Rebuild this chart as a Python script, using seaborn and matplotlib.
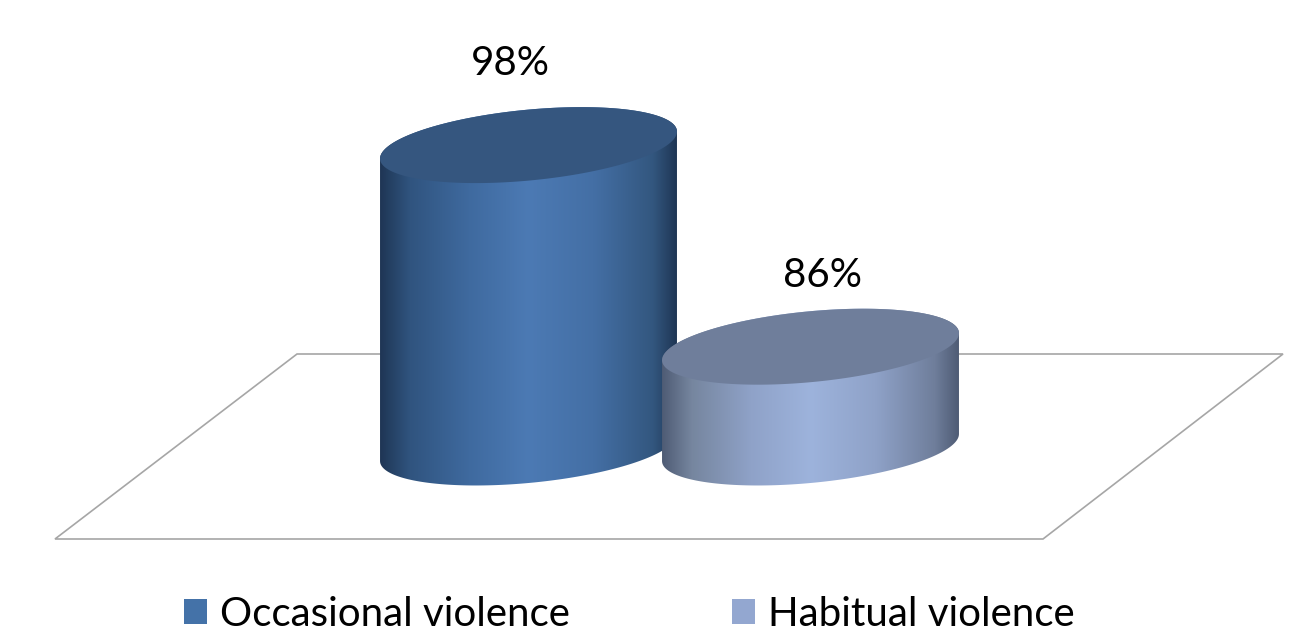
import numpy as np
import pandas as pd
import matplotlib
matplotlib.use("Agg")
import matplotlib.pyplot as plt
from matplotlib.colors import LinearSegmentedColormap
from matplotlib.patches import Patch, Polygon
from matplotlib.transforms import Affine2D
import seaborn as sns

categories = ["Occasional violence", "Habitual violence"]
values = [98, 86]
labels = ["98%", "86%"]

W, H = 1314, 633
sns.set_theme(style="white")
plt.rcParams["font.family"] = ["Lato", "DejaVu Sans"]

fig = plt.figure(figsize=(W / 100, H / 100), dpi=100, facecolor="white")
ax = fig.add_axes([0, 0, 1, 1])

df = pd.DataFrame({"category": categories, "value": values})
sns.barplot(data=df, x="category", y="value", order=categories, width=1.053, ax=ax)

# value axis starts at 80; about 16.8 px per percentage point, 282 px between bars
BASE, PX_Y, PX_X = 80, 16.8, 282.0
BASE_PX_Y, FIRST_PX_X = 447.5, 528.5
XLIM = (-FIRST_PX_X / PX_X, (W - FIRST_PX_X) / PX_X)
YLIM = (BASE - (H - BASE_PX_Y) / PX_Y, BASE + BASE_PX_Y / PX_Y)
ax.set_xlim(*XLIM)
ax.set_ylim(*YLIM)
ax.axis("off")

# floor plane, drawn in pixel space
to_px = Affine2D().scale(1, -1).translate(0, H)
ax.add_patch(Polygon([(297, 354), (1283, 354), (1043, 539), (55, 539)], closed=True,
                     fill=False, edgecolor="#a6a6a6", linewidth=1.2,
                     transform=to_px, zorder=1))

stops = [
    (["#1f3655", "#30547f", "#3f6a9f", "#4c7ab4", "#446fa5", "#33577f", "#1f3655"], "#35567f"),
    (["#4f5c75", "#76869f", "#8fa2c8", "#9db3dc", "#8fa2c8", "#6f7e9b", "#4f5c75"], "#6f7e9b"),
]
positions = [0, 0.1, 0.3, 0.5, 0.72, 0.92, 1]
DEPTH = 35.5 / PX_Y
SHEAR = 13.5 / PX_Y
t = np.linspace(0, 2 * np.pi, 361)

bars = list(ax.patches)[:len(values)]
for i, bar in enumerate(bars):
    x0, w, top = bar.get_x(), bar.get_width(), bar.get_height()
    bar.set_visible(False)
    cx, a = x0 + w / 2, w / 2
    ex = cx + a * np.cos(t)
    etop = top + DEPTH * np.sin(t) + SHEAR * np.cos(t)
    front = t[t >= np.pi]
    back = t[t <= np.pi]
    fx = cx + a * np.cos(front)
    f_base = BASE + DEPTH * np.sin(front) + SHEAR * np.cos(front)
    bx = cx + a * np.cos(back)
    b_top = top + DEPTH * np.sin(back) + SHEAR * np.cos(back)
    side = Polygon(np.r_[np.c_[fx, f_base], np.c_[bx, b_top]], closed=True,
                   transform=ax.transData, facecolor="none", edgecolor="none")
    ax.add_patch(side)
    z = 3 + i
    cmap = LinearSegmentedColormap.from_list(f"c{i}", list(zip(positions, stops[i][0])))
    img = ax.imshow(np.linspace(0, 1, 512)[None, :], cmap=cmap, aspect="auto", vmin=0, vmax=1,
                    extent=[cx - a, cx + a, BASE - 3 * DEPTH, top + 3 * DEPTH],
                    zorder=z, interpolation="bilinear")
    img.set_clip_path(side)
    ax.fill(ex, etop, color=stops[i][1], linewidth=0, zorder=z + 0.5)

label_nudge = [(-18.5, 81.5), (11.5, 71)]
for bar, text, (dx, dy) in zip(bars, labels, label_nudge):
    ax.annotate(text, xy=(bar.get_x() + bar.get_width() / 2, bar.get_height()),
                xytext=(dx * 0.72, dy * 0.72), textcoords="offset points",
                ha="center", va="center", fontsize=29, color="black", zorder=10)

ax.set_xlim(*XLIM)
ax.set_ylim(*YLIM)

handles = [Patch(facecolor=c, edgecolor="none", label=n)
           for c, n in zip(["#4472a8", "#93a7d0"], categories)]
ax.legend(handles=handles, ncols=2, loc="lower left", bbox_to_anchor=(184 / W, 0.5 / H),
          frameon=False, fontsize=29, labelcolor="black", handlelength=0.57, handleheight=0.57,
          handletextpad=0.32, columnspacing=4.04, borderpad=0, borderaxespad=0)

fig.savefig("out.png", dpi=100, facecolor="white")
